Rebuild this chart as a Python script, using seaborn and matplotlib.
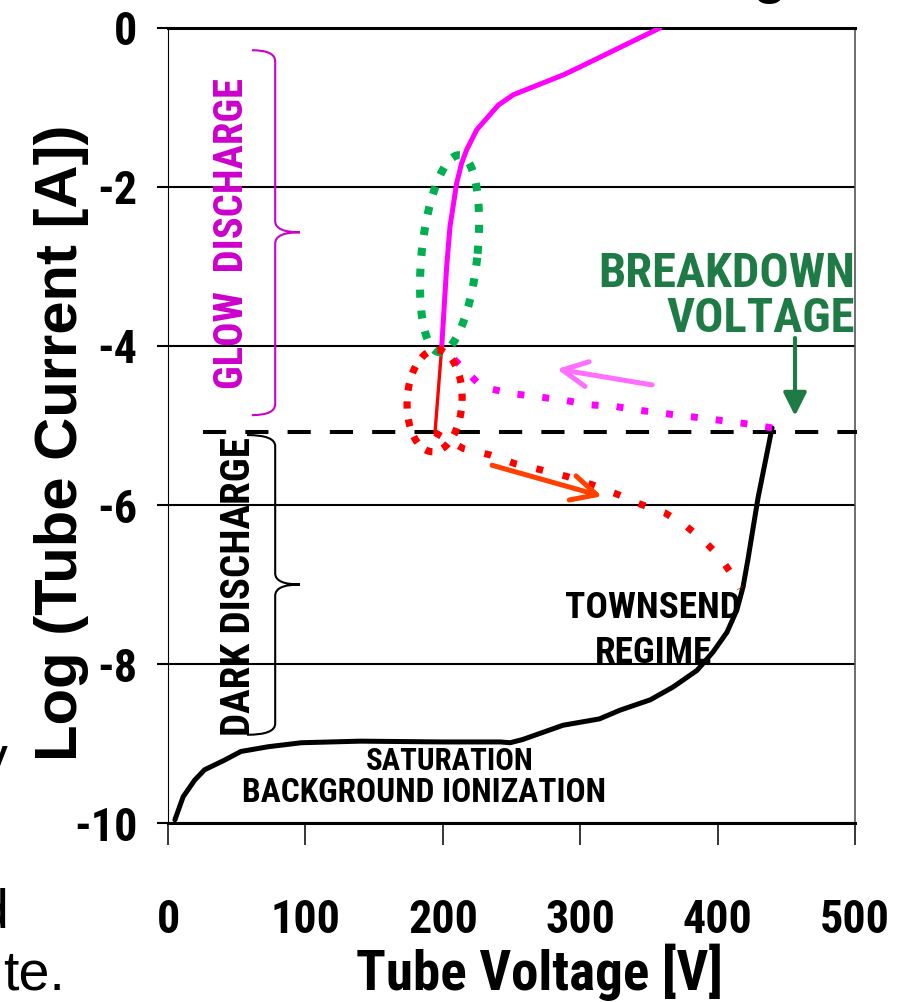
import os
import numpy as np
import matplotlib
matplotlib.use("Agg")
import matplotlib.pyplot as plt
import matplotlib.font_manager as fm
from matplotlib.font_manager import FontProperties
from matplotlib.path import Path
from matplotlib.patches import PathPatch
import seaborn as sns

# ---------------- data ----------------
x_ticks = [0, 100, 200, 300, 400, 500]
y_ticks = [0, -2, -4, -6, -8, -10]

# dark discharge (black)
dark_v = [5, 11, 19.4, 26.6, 41, 53, 73, 97, 140, 200, 242, 249, 258, 287.5,
          314, 329, 351, 367.5, 385, 396.6, 406.8, 414, 418.5, 422, 429.4, 439.6]
dark_logi = [-9.96, -9.67, -9.46, -9.33, -9.21, -9.10, -9.04, -8.99, -8.97, -8.98,
             -8.98, -8.99, -8.95, -8.77, -8.69, -8.58, -8.45, -8.29, -8.08, -7.85,
             -7.60, -7.32, -7.03, -6.69, -5.91, -5.03]

# glow discharge (magenta solid)
glow_v = [199.2, 202.8, 205.2, 210.1, 213.7, 217.4, 224.7, 240.4, 251.3, 287.7, 299.9, 358]
glow_logi = [-4.01, -3.00, -2.50, -1.95, -1.70, -1.53, -1.28, -0.97, -0.84, -0.59, -0.49, 0.0]

# return path after breakdown (magenta dotted)
ret_v = [439.6, 417.5, 399.3, 381.1, 361.7, 343.5, 325.3, 307, 287.7, 269.5,
         251.3, 231.9, 225.8, 211.3, 199.2]
ret_logi = [-5.03, -4.97, -4.93, -4.89, -4.85, -4.81, -4.76, -4.74, -4.68, -4.64,
            -4.60, -4.53, -4.47, -4.22, -4.01]

# red dotted path
red_v = [194.3, 214.9, 234.4, 252.5, 271.9, 290.1, 309.5, 327.7, 342.3, 361.7,
         376, 390, 401, 409, 416.3]
red_logi = [-5.09, -5.29, -5.37, -5.48, -5.56, -5.64, -5.75, -5.87, -5.98, -6.10,
            -6.25, -6.45, -6.64, -6.84, -7.05]

# red solid jump
jump_v = [194.3, 199.2]
jump_logi = [-5.09, -4.01]

breakdown_logi = -5.08
breakdown_span = [25.5, 501.5]

# ---------------- style ----------------
sns.set_theme(style="white")
plt.rcParams["font.family"] = ["Liberation Sans", "DejaVu Sans"]


def find_font(patterns):
    files = [f.fname for f in fm.fontManager.ttflist]
    for pat in patterns:
        for fn in files:
            if pat in os.path.basename(fn).lower():
                return fn
    return None


cond = find_font(["liberationsansnarrow-bold.", "arialnb", "arial narrow bold",
                  "notosans-condensedbold", "robotocondensed-bold",
                  "opensans_condensed-bold", "opensans-condensedbold",
                  "dejavusanscondensed-bold."])
if cond:
    COND = FontProperties(fname=cond)
else:
    COND = FontProperties(family="Liberation Sans", weight="bold")

MAGENTA = "#FF00FF"
MAG_TEXT = "#CC00CC"
GREEN_DOT = "#00B050"
GREEN_TXT = "#1E7B45"
RED = "#FF0000"

fig, ax = plt.subplots(figsize=(8.99, 10.02), dpi=100)
fig.subplots_adjust(left=0.1869, right=0.9511, top=0.9721, bottom=0.1786)
renderer = fig.canvas.get_renderer()


def fit_size(s, target_px, max_pt):
    t = fig.text(0, 0, s, fontproperties=COND, fontsize=max_pt)
    w = t.get_window_extent(renderer).width
    t.remove()
    return min(max_pt, max_pt * target_px / w)


ax.set_xlim(0, 500)
ax.set_ylim(-10, 0)

# curves
sns.lineplot(x=dark_v, y=dark_logi, sort=False, estimator=None, color="black",
             lw=3.6, ax=ax, zorder=4)
sns.lineplot(x=glow_v, y=glow_logi, sort=False, estimator=None, color=MAGENTA,
             lw=3.6, ax=ax, zorder=4)
sns.lineplot(x=ret_v, y=ret_logi, sort=False, estimator=None, color=MAGENTA,
             lw=5, linestyle=(0, (1, 2.6)), ax=ax, zorder=4)
sns.lineplot(x=red_v, y=red_logi, sort=False, estimator=None, color=RED,
             lw=5, linestyle=(0, (1, 2.9)), ax=ax, zorder=4)
sns.lineplot(x=jump_v, y=jump_logi, sort=False, estimator=None, color=RED,
             lw=2.4, ax=ax, zorder=5)
sns.lineplot(x=breakdown_span, y=[breakdown_logi, breakdown_logi], sort=False,
             estimator=None, color="black", lw=2.9, linestyle=(0, (5.75, 4.75)),
             ax=ax, zorder=3, clip_on=False)


def ellipse(cx, cy, rx, ry, shear, color, lw, dash):
    t = np.linspace(0, 2 * np.pi, 300)
    ex = cx + rx * np.cos(t) + shear * ry * np.sin(t)
    ey = cy + ry * np.sin(t)
    sns.lineplot(x=ex, y=ey, sort=False, estimator=None, color=color, lw=lw,
                 linestyle=(0, dash), ax=ax, zorder=6)


ellipse(204.9, -2.84, 20.4, 1.24, 5.5, GREEN_DOT, 5.8, (1, 1.6))
ellipse(194.0, -4.69, 20.0, 0.64, 2.0, RED, 5.2, (1, 1.5))


def brace(x, x_hook, x_tip, y_top, y_bot, y_tip, r, color, lw):
    verts = [(x_hook, y_top), (x, y_top), (x, y_top - r), (x, y_tip + r),
             (x, y_tip), (x_tip, y_tip), (x, y_tip), (x, y_tip - r),
             (x, y_bot + r), (x, y_bot), (x_hook, y_bot)]
    codes = [Path.MOVETO, Path.CURVE3, Path.CURVE3, Path.LINETO, Path.CURVE3,
             Path.CURVE3, Path.CURVE3, Path.CURVE3, Path.LINETO, Path.CURVE3,
             Path.CURVE3]
    ax.add_patch(PathPatch(Path(verts, codes), fill=False, edgecolor=color,
                           lw=lw, zorder=5))


brace(78, 61, 96, -0.28, -4.87, -2.57, 0.14, MAG_TEXT, 1.5)
brace(78, 57.5, 96, -5.12, -8.89, -7.0, 0.14, "black", 1.5)

# arrows
ax.annotate("", xy=(283, -4.29), xytext=(352.3, -4.49),
            arrowprops=dict(arrowstyle="->,head_length=0.9,head_width=0.45",
                            color="#FF6EFF", lw=3.6, mutation_scale=20,
                            shrinkA=0, shrinkB=0), zorder=7)
ax.annotate("", xy=(315.9, -5.89), xytext=(235.8, -5.50),
            arrowprops=dict(arrowstyle="->,head_length=0.9,head_width=0.45",
                            color="#FF4000", lw=3.6, mutation_scale=20,
                            shrinkA=0, shrinkB=0), zorder=7)
ax.annotate("", xy=(456.3, -4.88), xytext=(456.3, -3.90),
            arrowprops=dict(arrowstyle="-|>,head_length=0.7,head_width=0.35",
                            color=GREEN_TXT, lw=3.0, mutation_scale=20,
                            shrinkA=0, shrinkB=0), zorder=7)

# annotation texts (sizes fitted to the reference widths)
s_glow = fit_size("GLOW  DISCHARGE", 310, 30)
s_dark = fit_size("DARK DISCHARGE", 298, 30)
s_town = fit_size("TOWNSEND", 176, 27)
s_sat = fit_size("SATURATION", 168, 23)
s_bg = fit_size("BACKGROUND IONIZATION", 378, 24)
s_brk = fit_size("BREAKDOWN", 265, 35)
s_xl = fit_size("Tube Voltage [V]", 366, 40)
s_tick = fit_size("100", 70, 40)

ax.text(54.6, -2.59, "GLOW  DISCHARGE", rotation=90, rotation_mode="anchor",
        ha="center", va="baseline", color=MAG_TEXT, fontproperties=COND,
        fontsize=s_glow)
ax.text(59.7, -7.02, "DARK DISCHARGE", rotation=90, rotation_mode="anchor",
        ha="center", va="baseline", color="black", fontproperties=COND,
        fontsize=s_dark)
ax.text(353, -7.42, "TOWNSEND", ha="center", va="baseline", color="black",
        fontproperties=COND, fontsize=s_town)
ax.text(353, -7.99, "REGIME", ha="center", va="baseline", color="black",
        fontproperties=COND, fontsize=s_town)
ax.text(205, -9.33, "SATURATION", ha="center", va="baseline", color="black",
        fontproperties=COND, fontsize=s_sat)
ax.text(186, -9.74, "BACKGROUND IONIZATION", ha="center", va="baseline",
        color="black", fontproperties=COND, fontsize=s_bg)
ax.text(500, -3.26, "BREAKDOWN", ha="right", va="baseline", color=GREEN_TXT,
        fontproperties=COND, fontsize=s_brk)
ax.text(500, -3.82, "VOLTAGE", ha="right", va="baseline", color=GREEN_TXT,
        fontproperties=COND, fontsize=s_brk)

# axes styling
ax.set_xticks(x_ticks)
ax.set_yticks(y_ticks)
ax.set_xticklabels([str(v) for v in x_ticks], fontproperties=COND)
ax.set_yticklabels([str(v) for v in y_ticks], fontproperties=COND)
tick_px = s_tick * 100 / 72
xpad = max(2.0, (914 - 0.72 * tick_px / 2 - 845) * 0.72)
ax.tick_params(axis="x", direction="out", length=16, width=1.1, pad=xpad,
               bottom=True, colors="black", labelsize=s_tick)
ax.tick_params(axis="y", direction="out", length=8, width=1.5, pad=14,
               left=True, colors="black", labelsize=s_tick)
ax.yaxis.grid(True, color="black", lw=1.5)
ax.xaxis.grid(False)
ax.set_axisbelow(True)
for s in ["top", "bottom"]:
    ax.spines[s].set_linewidth(2.2)
    ax.spines[s].set_color("black")
ax.spines["left"].set_linewidth(0.8)
ax.spines["left"].set_color("black")
ax.spines["right"].set_linewidth(1.2)
ax.spines["right"].set_color("#555555")

ax.set_xlabel("Tube Voltage [V]", fontproperties=COND, fontsize=s_xl,
              color="black")
ax.xaxis.set_label_coords(0.54, -0.2105)
ax.xaxis.label.set_va("baseline")
ax.set_ylabel("Log (Tube Current [A])", fontsize=43, fontweight="bold",
              fontfamily="Liberation Sans", color="black")
ax.yaxis.set_label_coords(-0.132, 0.478)
ax.yaxis.label.set_va("baseline")

# cropped fragments of surrounding slide text (cut off at the edge as in the source)
W, H = 899, 1002
frag = dict(fontsize=40, color="black", fontfamily="Liberation Sans")
fig.text(-20 / W, 1 - 775 / H, "y", ha="left", va="baseline", **frag)
fig.text(8 / W, 1 - 927 / H, "d", ha="right", va="baseline", **frag)
fig.text(65 / W, 1 - 989 / H, "te.", ha="right", va="baseline", **frag)
fig.text(770 / W, 1 + 8 / H, "g", ha="center", va="baseline", fontweight="bold",
         **frag)

fig.savefig("out.png", dpi=100)
